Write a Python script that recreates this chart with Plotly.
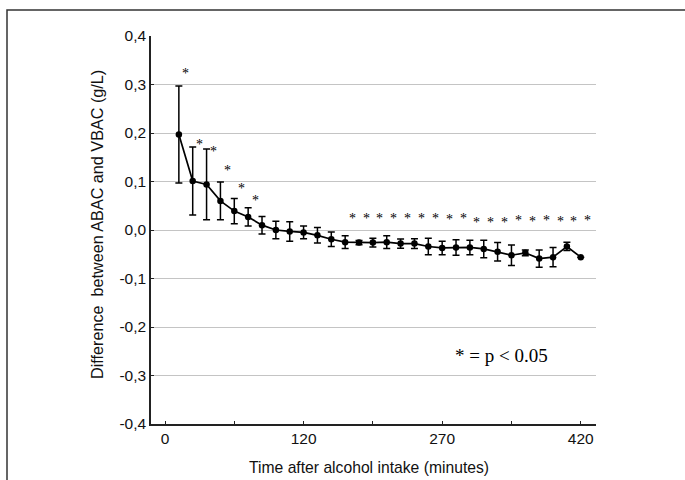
import plotly.graph_objects as go

# Sampling order of the blood-alcohol measurements (one per step on the time axis)
sample_no = list(range(1, 31))

# Mean difference ABAC - VBAC (g/L) and its error (SD) at each sample
mean_diff = [0.197, 0.101, 0.094, 0.060, 0.039, 0.027, 0.010, 0.000, -0.003, -0.005,
             -0.011, -0.019, -0.025, -0.026, -0.026, -0.025, -0.028, -0.028, -0.034, -0.037,
             -0.036, -0.036, -0.039, -0.045, -0.052, -0.047, -0.059, -0.056, -0.034, -0.056]
err_diff = [0.100, 0.070, 0.073, 0.039, 0.026, 0.019, 0.018, 0.018, 0.020, 0.013,
            0.016, 0.015, 0.013, 0.0045, 0.009, 0.013, 0.0095, 0.010, 0.017, 0.014,
            0.016, 0.015, 0.018, 0.019, 0.021, 0.006, 0.018, 0.020, 0.0085, 0.0]

# Significance markers (p < 0.05) and the level at which each star is printed
significant = [1, 1, 1, 1, 1, 1, 0, 0, 0, 0, 0, 0,
               1, 1, 1, 1, 1, 1, 1, 1, 1, 1, 1, 1, 1, 1, 1, 1, 1, 1]
star_level = [0.328, 0.182, 0.169, 0.129, 0.091, 0.066, None, None, None, None, None, None,
              0.030, 0.030, 0.030, 0.030, 0.030, 0.030, 0.030, 0.028, 0.030, 0.021,
              0.022, 0.022, 0.026, 0.024, 0.026, 0.024, 0.024, 0.026]

# Axis ticks
x_tick_pos = [0, 5, 10, 15, 20, 25, 30]
x_tick_text = ["0", "", "120", "", "270", "", "420"]
y_tick_vals = [-0.4, -0.3, -0.2, -0.1, 0.0, 0.1, 0.2, 0.3, 0.4]
y_tick_text = ["-0,4", "-0,3", "-0,2", "-0,1", "0,0", "0,1", "0,2", "0,3", "0,4"]

SANS = "Liberation Sans, Arial, sans-serif"
SERIF = "Liberation Serif, Times New Roman, serif"

W, H = 685, 480
ML, MR, MT, MB = 151, 89, 36, 56
PW, PH = W - ML - MR, H - MT - MB

fig = go.Figure()
fig.add_trace(go.Scatter(
    x=sample_no, y=mean_diff, mode="lines+markers",
    line=dict(color="black", width=1.7),
    marker=dict(color="black", size=6.5),
    error_y=dict(type="data", array=err_diff, visible=True,
                 color="black", thickness=1.5, width=3.5),
    showlegend=False, hoverinfo="skip",
))

annotations = []
for x, flag, lvl in zip(sample_no, significant, star_level):
    if flag:
        annotations.append(dict(
            x=x, y=lvl, xref="x", yref="y", text="*", showarrow=False,
            xshift=7, yshift=-3, xanchor="center", yanchor="middle",
            font=dict(family=SERIF, size=14, color="black"),
        ))

def px_to_paper_x(px):
    return (px - ML) / PW

def px_to_paper_y(py):
    return (H - MB - py) / PH

annotations += [
    dict(text="* = p < 0.05", x=px_to_paper_x(501), y=px_to_paper_y(355),
         xref="paper", yref="paper", showarrow=False, xanchor="center", yanchor="middle",
         font=dict(family=SERIF, size=19, color="black")),
    dict(text="Difference  between ABAC and VBAC (g/L)", x=px_to_paper_x(97),
         y=px_to_paper_y(225), xref="paper", yref="paper", showarrow=False,
         textangle=-90, xanchor="center", yanchor="middle",
         font=dict(family=SANS, size=16.2, color="#111")),
    dict(text="Time after alcohol intake (minutes)", x=px_to_paper_x(369),
         y=px_to_paper_y(467), xref="paper", yref="paper", showarrow=False,
         xanchor="center", yanchor="middle",
         font=dict(family=SANS, size=15.7, color="#111")),
]

# Thin outer frame along the top and left edges of the figure
frame_path = "M {l},{b} L {l},{t} L {r},{t}".format(
    l=px_to_paper_x(7), b=px_to_paper_y(482), t=px_to_paper_y(10), r=px_to_paper_x(690))

fig.update_layout(
    width=W, height=H, autosize=False,
    margin=dict(l=ML, r=MR, t=MT, b=MB, pad=0),
    paper_bgcolor="white", plot_bgcolor="white",
    font=dict(family=SANS, size=15, color="#111"),
    annotations=annotations,
    shapes=[dict(type="path", path=frame_path, xref="paper", yref="paper",
                 line=dict(color="#333", width=1.5))],
    xaxis=dict(range=[-1.01, 31.1], tickmode="array", tickvals=x_tick_pos,
               ticktext=x_tick_text, showgrid=False, zeroline=False,
               showline=True, linecolor="#222", linewidth=1.5,
               ticks="inside", ticklen=3, tickcolor="#222", tickwidth=1,
               tickfont=dict(family=SANS, size=15.5, color="#111")),
    yaxis=dict(range=[-0.4, 0.4], tickmode="array", tickvals=y_tick_vals,
               ticktext=y_tick_text, showgrid=True, gridcolor="#c4c4c4", gridwidth=1,
               zeroline=False, showline=True, linecolor="#222", linewidth=1.5,
               ticks="inside", ticklen=3, tickcolor="#222", tickwidth=1,
               tickfont=dict(family=SANS, size=15.5, color="#111")),
)

fig.write_html("out.html")
